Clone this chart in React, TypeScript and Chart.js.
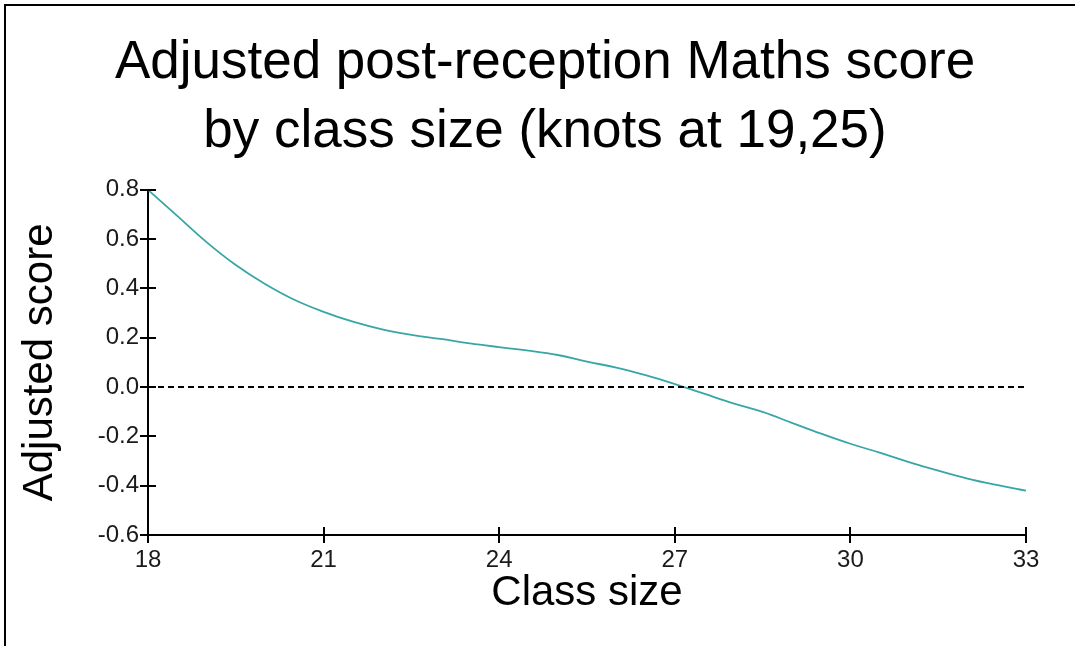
import { useEffect, useRef } from "react";
import { Chart, registerables } from "chart.js";

Chart.register(...registerables);

const classSizes = [
  18, 18.5, 19, 19.5, 20, 20.5, 21, 21.5, 22, 22.5, 23, 23.5, 24, 24.5, 25, 25.5,
  26, 26.5, 27, 27.5, 28, 28.5, 29, 29.5, 30, 30.5, 31, 31.5, 32, 32.5, 33,
];
const adjustedScores = [
  0.8, 0.694, 0.588, 0.495, 0.418, 0.354, 0.305, 0.265, 0.234, 0.212, 0.195, 0.177,
  0.162, 0.148, 0.13, 0.103, 0.079, 0.048, 0.012, -0.027, -0.066, -0.101, -0.145,
  -0.189, -0.23, -0.266, -0.304, -0.339, -0.371, -0.397, -0.42,
];
const zeroLineX = [18, 33];
const zeroLineY = [0, 0];

const titleLines = ["Adjusted post-reception Maths score", "by class size (knots at 19,25)"];
const xAxisTitle = "Class size";
const yAxisTitle = "Adjusted score";
const xMin = 18;
const xMax = 33;
const xStep = 3;
const yMin = -0.6;
const yMax = 0.8;
const yStep = 0.2;

const FONT = "'Liberation Sans', Arial, Helvetica, sans-serif";

const frame = {
  id: "frame",
  beforeDraw(chart: any) {
    const { ctx, width, height } = chart;
    ctx.save();
    ctx.fillStyle = "#fff";
    ctx.fillRect(0, 0, width, height);
    ctx.strokeStyle = "#000";
    ctx.lineWidth = 2;
    ctx.beginPath();
    ctx.moveTo(5, height);
    ctx.lineTo(5, 5);
    ctx.lineTo(width, 5);
    ctx.stroke();
    ctx.restore();
  },
};

const innerTicks = {
  id: "innerTicks",
  afterDraw(chart: any) {
    const { ctx, chartArea, scales } = chart;
    const xs = scales.x;
    const ys = scales.y;
    ctx.save();
    ctx.strokeStyle = "#000";
    ctx.lineWidth = 2;
    ctx.beginPath();
    xs.ticks.forEach((t: any) => {
      const px = Math.round(xs.getPixelForValue(t.value));
      ctx.moveTo(px, chartArea.bottom);
      ctx.lineTo(px, chartArea.bottom - 8);
    });
    ys.ticks.forEach((t: any) => {
      const py = Math.round(ys.getPixelForValue(t.value));
      ctx.moveTo(chartArea.left, py);
      ctx.lineTo(chartArea.left + 8, py);
    });
    ctx.stroke();
    ctx.restore();
  },
};

export default function App() {
  const canvasRef = useRef<HTMLCanvasElement | null>(null);

  useEffect(() => {
    if (!canvasRef.current) return;
    const curve = classSizes.map((x, i) => ({ x, y: adjustedScores[i] }));
    const zero = zeroLineX.map((x, i) => ({ x, y: zeroLineY[i] }));
    const chart = new Chart(canvasRef.current, {
      type: "line",
      data: {
        datasets: [
          {
            data: zero,
            borderColor: "#000",
            borderWidth: 2,
            borderDash: [6, 4],
            pointRadius: 0,
            fill: false,
          },
          {
            data: curve,
            borderColor: "#38a6a6",
            borderWidth: 1.8,
            pointRadius: 0,
            tension: 0.4,
            fill: false,
          },
        ],
      },
      options: {
        animation: false,
        responsive: false,
        devicePixelRatio: 1,
        layout: { padding: { left: 15, right: 0, top: 0, bottom: 0 } },
        plugins: {
          legend: { display: false },
          tooltip: { enabled: false },
          title: {
            display: true,
            text: titleLines,
            color: "#000",
            font: { family: FONT, size: 53, weight: "normal", lineHeight: 1.3 },
            padding: { top: 29, bottom: 23 },
          },
        },
        scales: {
          x: {
            type: "linear",
            min: xMin,
            max: xMax,
            afterFit: (s: any) => {
              s.height = 111;
            },
            ticks: {
              stepSize: xStep,
              color: "#1a1a1a",
              padding: 3,
              maxRotation: 0,
              font: { family: FONT, size: 24 },
            },
            grid: {
              display: true,
              drawOnChartArea: false,
              drawTicks: true,
              tickLength: 8,
              color: "#000",
              lineWidth: 2,
            },
            border: { display: true, color: "#000", width: 2 },
            title: {
              display: true,
              text: xAxisTitle,
              color: "#000",
              font: { family: FONT, size: 42 },
              padding: { top: 0, bottom: 27 },
            },
          },
          y: {
            type: "linear",
            min: yMin,
            max: yMax,
            afterFit: (s: any) => {
              s.width = 133;
            },
            ticks: {
              stepSize: yStep,
              color: "#1a1a1a",
              padding: 1,
              font: { family: FONT, size: 24 },
              callback: (v: any) => Number(v).toFixed(1),
            },
            grid: {
              display: true,
              drawOnChartArea: false,
              drawTicks: true,
              tickLength: 8,
              color: "#000",
              lineWidth: 2,
            },
            border: { display: true, color: "#000", width: 2 },
            title: {
              display: true,
              text: yAxisTitle,
              color: "#000",
              font: { family: FONT, size: 42 },
              padding: { top: 0, bottom: 0 },
            },
          },
          yRight: {
            type: "linear",
            position: "right",
            display: true,
            afterFit: (s: any) => {
              s.width = 49;
            },
            ticks: { display: false },
            grid: { display: false, drawTicks: false },
            border: { display: false },
          },
        },
      },
      plugins: [frame, innerTicks],
    });
    return () => chart.destroy();
  }, []);

  return (
    <div
      style={{
        position: "absolute",
        left: 0,
        top: 0,
        width: 1075,
        height: 646,
        background: "#fff",
        overflow: "hidden",
      }}
    >
      <canvas ref={canvasRef} width={1075} height={646} style={{ display: "block" }} />
    </div>
  );
}
